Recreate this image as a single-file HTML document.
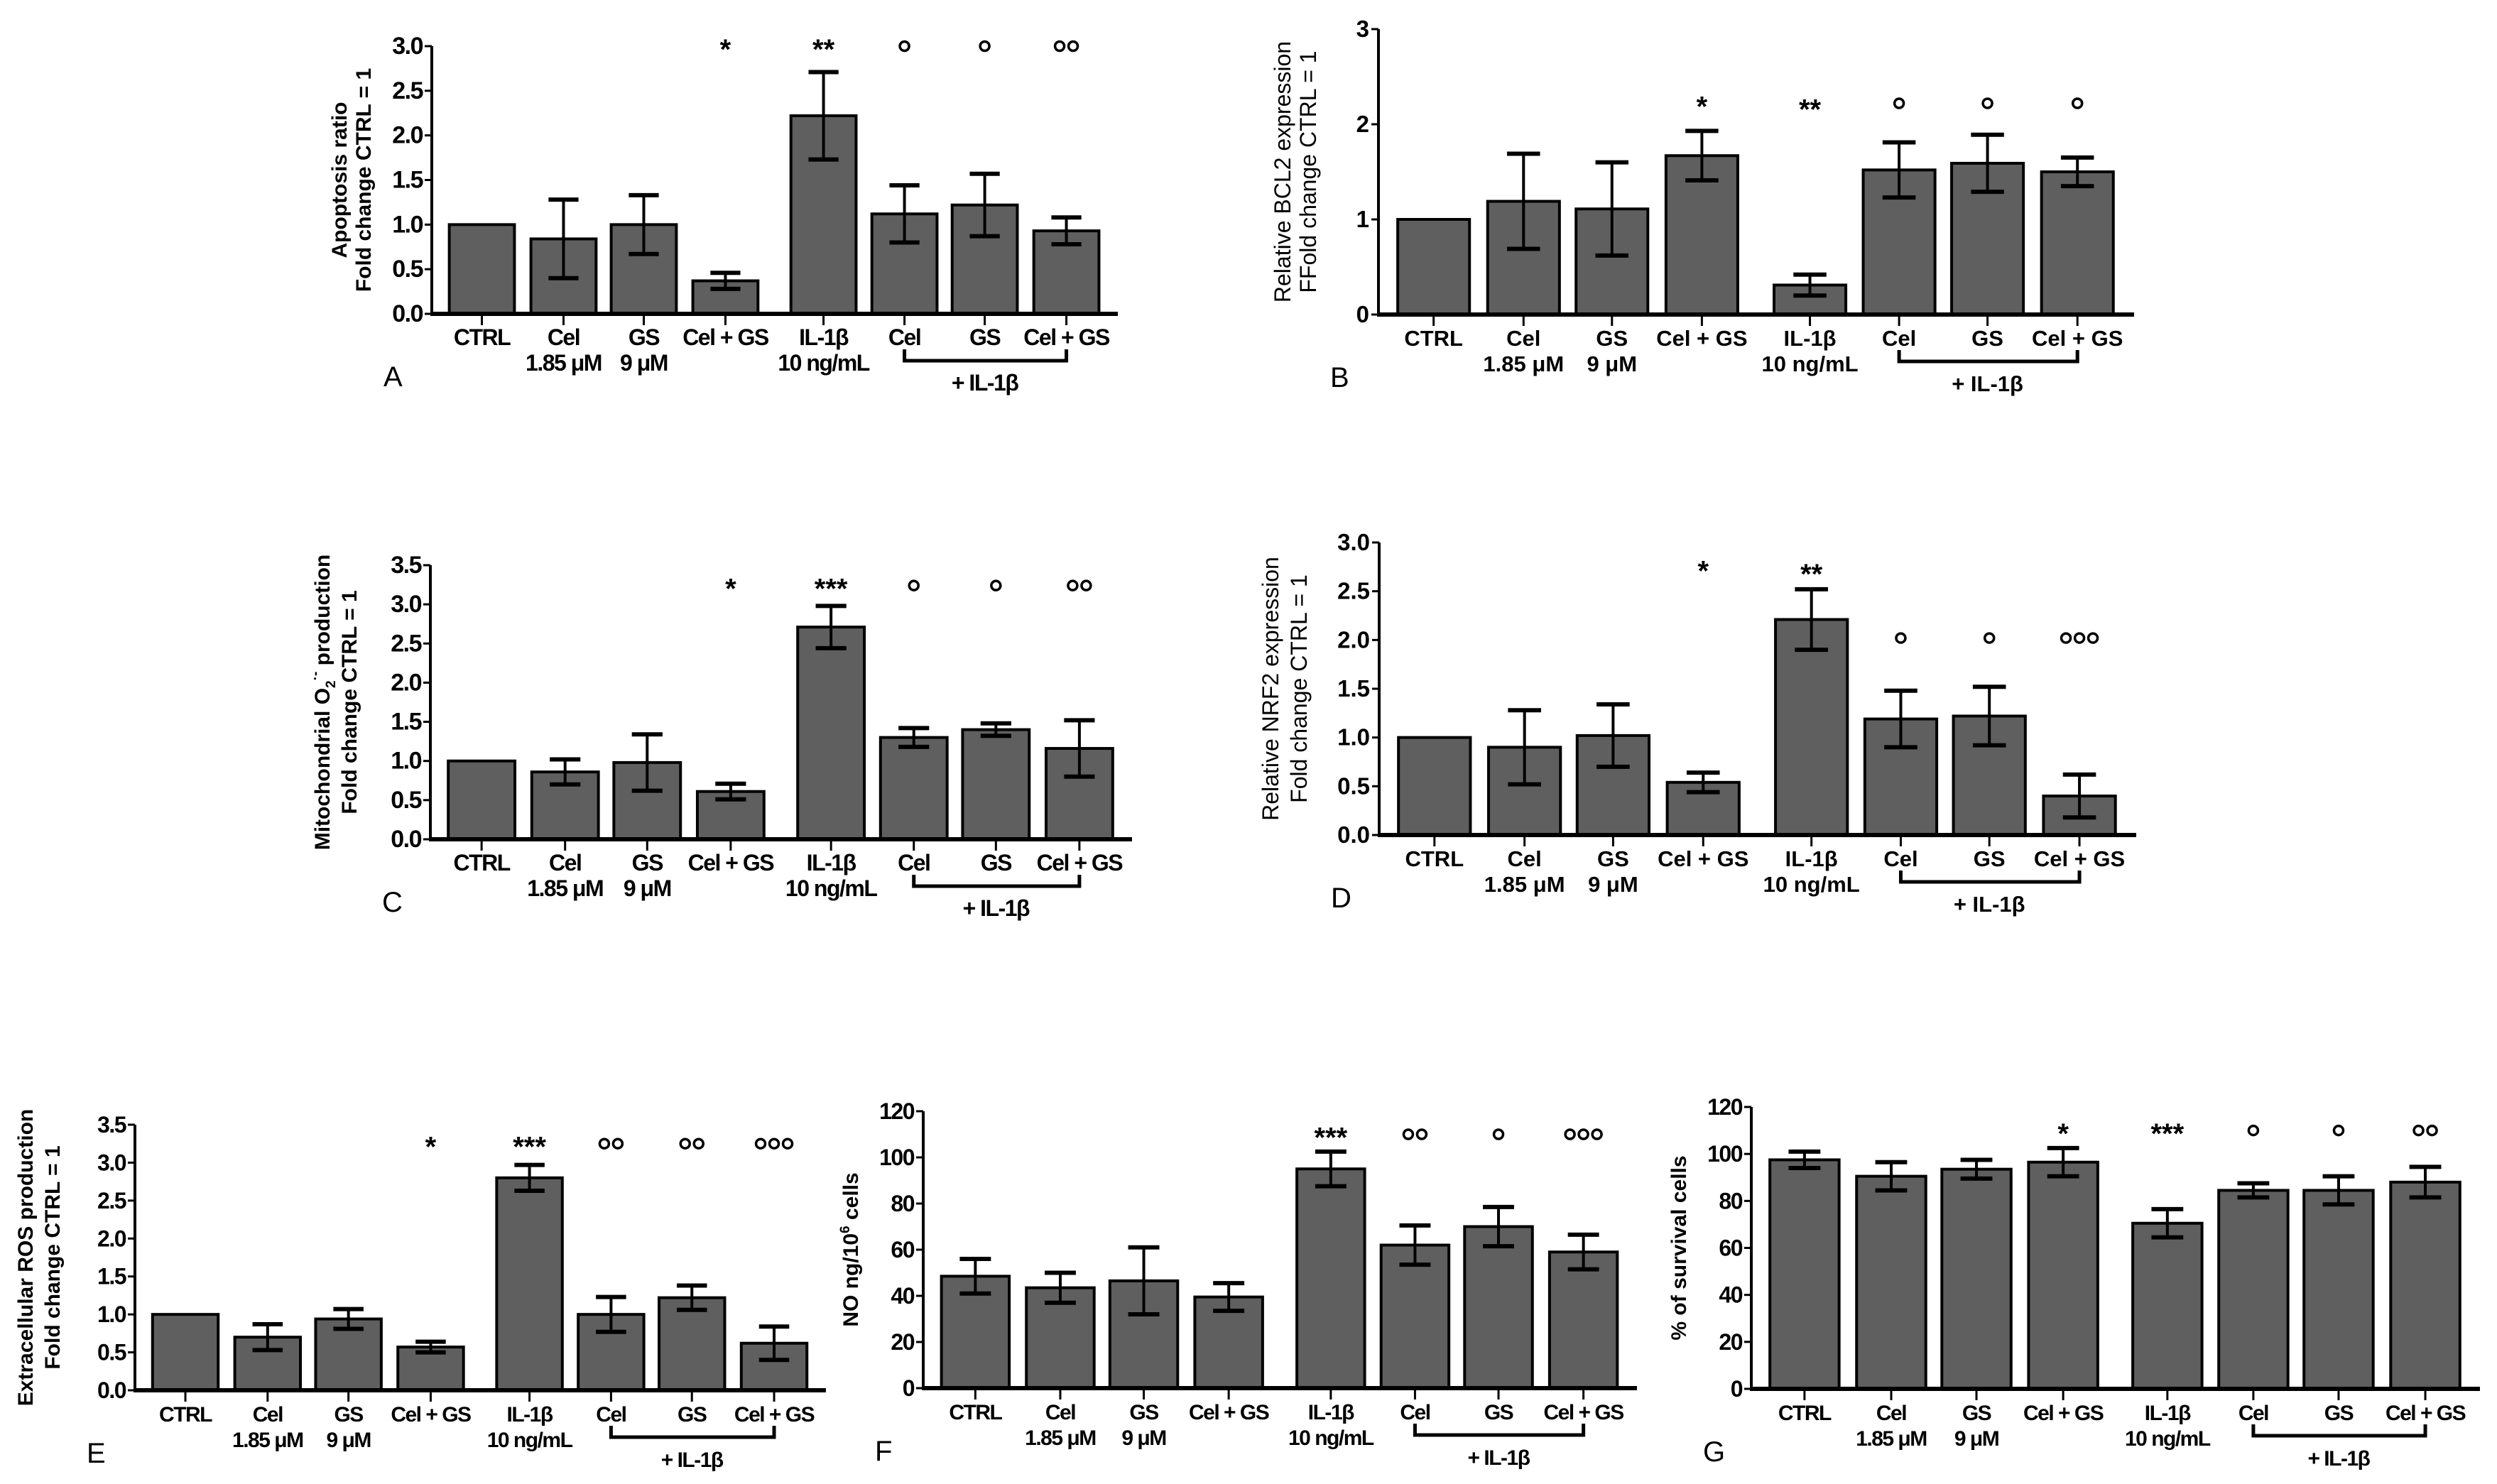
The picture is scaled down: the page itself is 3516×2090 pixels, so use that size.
<!DOCTYPE html>
<html><head><meta charset="utf-8">
<style>
html,body{margin:0;padding:0;background:#fff;}
svg{display:block;}
text{font-family:"Liberation Sans",Arial,sans-serif;}
</style></head>
<body>
<svg id="fig" width="3516" height="2090" viewBox="0 0 3516 2090" xmlns="http://www.w3.org/2000/svg"></svg>
<script>
const categories = ["CTRL","Cel","GS","Cel + GS","IL-1β","Cel","GS","Cel + GS"];
const subLabels = ["","1.85 μM","9 μM","","10 ng/mL","","",""];

const aMeans = [1,0.84,1.0,0.37,2.22,1.12,1.22,0.93];
const aErr   = [0,0.44,0.33,0.09,0.49,0.32,0.35,0.15];
const aSig   = ["","","","*","**","o","o","oo"];

const bMeans = [1,1.19,1.11,1.67,0.31,1.52,1.59,1.50];
const bErr   = [0,0.50,0.49,0.26,0.11,0.29,0.30,0.15];
const bSig   = ["","","","*","**","o","o","o"];

const cMeans = [1,0.86,0.98,0.61,2.71,1.30,1.40,1.16];
const cErr   = [0,0.16,0.36,0.10,0.27,0.12,0.08,0.36];
const cSig   = ["","","","*","***","o","o","oo"];

const dMeans = [1,0.90,1.02,0.54,2.21,1.19,1.22,0.40];
const dErr   = [0,0.38,0.32,0.10,0.31,0.29,0.30,0.22];
const dSig   = ["","","","*","**","o","o","ooo"];

const eMeans = [1,0.70,0.94,0.57,2.80,1.00,1.22,0.62];
const eErr   = [0,0.17,0.13,0.07,0.17,0.23,0.16,0.22];
const eSig   = ["","","","*","***","oo","oo","ooo"];

const fMeans = [48.5,43.5,46.5,39.5,95,62,70,59];
const fErr   = [7.5,6.5,14.5,6,7.5,8.5,8.5,7.5];
const fSig   = ["","","","","***","oo","o","ooo"];

const gMeans = [97.5,90.5,93.5,96.5,70.5,84.5,84.5,88];
const gErr   = [3.5,6,4,6,6,3,6,6.5];
const gSig   = ["","","","*","***","o","o","oo"];

const aTicks = [0,0.5,1.0,1.5,2.0,2.5,3.0];
const bTicks = [0,1,2,3];
const cTicks = [0,0.5,1.0,1.5,2.0,2.5,3.0,3.5];
const dTicks = [0,0.5,1.0,1.5,2.0,2.5,3.0];
const eTicks = [0,0.5,1.0,1.5,2.0,2.5,3.0,3.5];
const fTicks = [0,20,40,60,80,100,120];
const gTicks = [0,20,40,60,80,100,120];

const NS="http://www.w3.org/2000/svg";
const svg=document.getElementById('fig');
function mk(tag,attrs,parent){const e=document.createElementNS(NS,tag);for(const k in attrs)e.setAttribute(k,attrs[k]);(parent||svg).appendChild(e);return e;}

const slots=[0.073,0.192,0.309,0.428,0.571,0.689,0.806,0.925];

function panel(cfg){
  const g=mk('g',{});
  
  
  const W=cfg.right-cfg.ax, H=cfg.zero-cfg.top, ymax=cfg.ticks[cfg.ticks.length-1];
  const X=i=>cfg.ax+slots[i]*W;
  const Y=v=>cfg.zero-v/ymax*H;
  const bw=0.095*W;
  const fs=cfg.fs||30;
  const ls=cfg.ls||0;
  cfg.means.forEach((m,i)=>{
    const r=mk('rect',{x:X(i)-bw/2,y:Y(m),width:bw,height:cfg.zero-Y(m),fill:'#5f5f5f',stroke:'#000','stroke-width':4},g);
    
    
    const e=cfg.err[i];
    if(e>0){
      const eg=mk('g',{stroke:'#000','stroke-width':4},g);
      
      
      const cw=bw*0.23;
      mk('line',{x1:X(i),x2:X(i),y1:Y(m-e),y2:Y(m+e)},eg);
      mk('line',{x1:X(i)-cw,x2:X(i)+cw,y1:Y(m+e),y2:Y(m+e),'stroke-width':6},eg);
      mk('line',{x1:X(i)-cw,x2:X(i)+cw,y1:Y(m-e),y2:Y(m-e),'stroke-width':6},eg);
    }
    const s=cfg.sig[i];
    if(s){
      const yy=Y(cfg.sigY[i]);
      if(s[0]==='*'){
        const t=mk('text',{x:X(i),y:yy+18,'text-anchor':'middle','font-size':40,'font-weight':'bold'},g);
        t.textContent=s;
        
        
      } else {
        const n=s.length, sp=19;
        for(let k=0;k<n;k++){
          const c=mk('circle',{cx:X(i)+(k-(n-1)/2)*sp,cy:yy,r:6.5,fill:'none',stroke:'#000','stroke-width':3.5},g);
          
          
        }
      }
    }
    mk('line',{x1:X(i),x2:X(i),y1:cfg.zero,y2:cfg.zero+16,stroke:'#000','stroke-width':3},g);
    const t1=mk('text',{x:X(i),y:cfg.zero+44,'text-anchor':'middle','font-size':fs,'font-weight':'bold','letter-spacing':ls},g);
    t1.textContent=categories[i];
    
    
    if(subLabels[i]){
      const t2=mk('text',{x:X(i),y:cfg.zero+80,'text-anchor':'middle','font-size':fs,'font-weight':'bold','letter-spacing':ls},g);
      t2.textContent=subLabels[i];
      
      
    }
  });
  const yax=mk('line',{x1:cfg.ax,x2:cfg.ax,y1:cfg.top,y2:cfg.zero,stroke:'#000','stroke-width':4},g);
  
  
  const xax=mk('line',{x1:cfg.ax-2,x2:cfg.right,y1:cfg.zero,y2:cfg.zero,stroke:'#000','stroke-width':6},g);
  
  
  cfg.ticks.forEach(v=>{
    mk('line',{x1:cfg.ax-10,x2:cfg.ax,y1:Y(v),y2:Y(v),stroke:'#000','stroke-width':3},g);
    const t=mk('text',{x:cfg.ax-13,y:Y(v)+11,'text-anchor':'end','font-size':fs+2,'font-weight':'bold','letter-spacing':ls},g);
    t.textContent=cfg.dec?v.toFixed(1):String(v);
    
    
  });
  const bx1=X(5), bx2=X(7), by=cfg.zero+66;
  const br=mk('path',{d:`M${bx1},${by-16}V${by}H${bx2}V${by-16}`,fill:'none',stroke:'#000','stroke-width':5},g);
  
  
  const bl=mk('text',{x:X(6),y:by+42,'text-anchor':'middle','font-size':fs,'font-weight':'bold','letter-spacing':ls},g);
  bl.textContent='+ IL-1β';
  
  
  const L=mk('text',{x:cfg.ax-68,y:cfg.zero+102,'font-size':40},g);
  L.textContent=cfg.letter;
  
  
  const cy=(cfg.top+cfg.zero)/2;
  cfg.titles.forEach((tt,k)=>{
    const x=cfg.ax+cfg.titleX[k];
    const t=mk('text',{x:x,y:cy,'text-anchor':'middle','font-size':cfg.tfs||30,'font-weight':cfg.tw||'bold',transform:`rotate(-90 ${x} ${cy})`},g);
    t.innerHTML=tt;
    
    
  });
}

const fill=(n,v)=>Array(8).fill(v);

panel({letter:'A',ax:608,top:65,zero:442,right:1574,ticks:aTicks,dec:true,means:aMeans,err:aErr,sig:aSig,sigY:fill(8,3.0),
  titles:['Apoptosis ratio','Fold change CTRL = 1'],titleX:[-120,-86],fs:32,ls:-1.5});
panel({letter:'B',ax:1941,top:41,zero:443,right:3005,ticks:bTicks,dec:false,means:bMeans,err:bErr,sig:bSig,sigY:[0,0,0,2.22,2.19,2.22,2.22,2.22],
  titles:['Relative BCL2 expression','FFold change CTRL = 1'],titleX:[-124,-88],tw:'normal',tfs:32,fs:31});
panel({letter:'C',ax:606,top:796,zero:1182,right:1594,ticks:cTicks,dec:true,means:cMeans,err:cErr,sig:cSig,sigY:fill(8,3.24),
  titles:['Mitochondrial O<tspan font-size="19" dy="8">2</tspan><tspan font-size="19" dy="-22">·-</tspan><tspan dy="14"> production</tspan>','Fold change CTRL = 1'],titleX:[-142,-104],fs:32,ls:-1.5});
panel({letter:'D',ax:1942,top:764,zero:1176,right:3008,ticks:dTicks,dec:true,means:dMeans,err:dErr,sig:dSig,sigY:[0,0,0,2.74,2.71,2.02,2.02,2.02],
  titles:['Relative NRF2 expression','Fold change CTRL = 1'],titleX:[-142,-102],tw:'normal',tfs:32,fs:31});
panel({letter:'E',ax:190,top:1584,zero:1958,right:1163,ticks:eTicks,dec:true,means:eMeans,err:eErr,sig:eSig,sigY:fill(8,3.25),
  titles:['Extracellular ROS production','Fold change CTRL = 1'],titleX:[-144,-106],fs:30,ls:-1.5});
panel({letter:'F',ax:1300,top:1565,zero:1955,right:2305,ticks:fTicks,dec:false,means:fMeans,err:fErr,sig:fSig,sigY:fill(8,110),
  titles:['NO ng/10<tspan font-size="19" dy="-12">6</tspan><tspan dy="12"> cells</tspan>'],titleX:[-92],fs:30,ls:-1.5});
panel({letter:'G',ax:2466,top:1559,zero:1956,right:3492,ticks:gTicks,dec:false,means:gMeans,err:gErr,sig:gSig,sigY:fill(8,110),
  titles:['% of survival cells'],titleX:[-92],fs:30,ls:-1.5});
</script>
</body></html>
